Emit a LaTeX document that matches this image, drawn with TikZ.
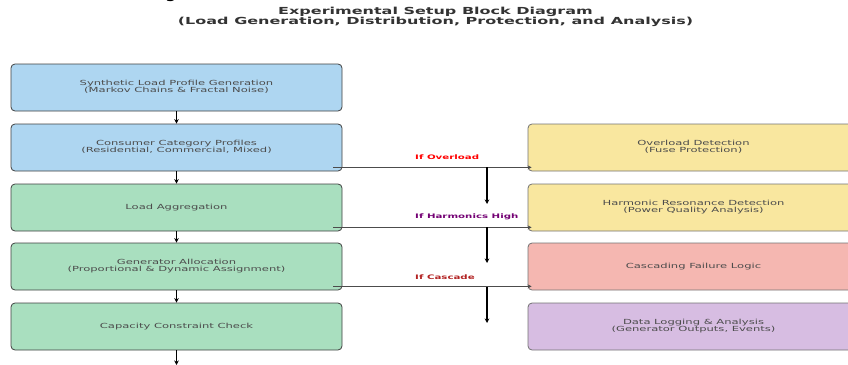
\documentclass[tikz,border=0pt]{standalone}
\usepackage{fontspec}
\setmainfont{DejaVu Sans}
\usepackage{graphicx}
\usetikzlibrary{arrows.meta}
\definecolor{genblue}{HTML}{AED6F1}
\definecolor{procgreen}{HTML}{A9DFBF}
\definecolor{protyellow}{HTML}{F9E79F}
\definecolor{failred}{HTML}{F5B7B1}
\definecolor{logpurple}{HTML}{D7BDE2}
\definecolor{cascred}{HTML}{B22222}
\newcommand{\wide}[1]{\scalebox{1.65}[1]{\begin{tabular}{@{}c@{}}#1\end{tabular}}}

\begin{document}
\begin{tikzpicture}[x=1pt,y=-1pt,
    box/.style={draw=black!75,line width=0.8pt,rounded corners=4pt,minimum width=331pt,minimum height=47pt,inner sep=0pt,text=black!70,font=\fontsize{7}{7.8}\selectfont},
    flow/.style={-{Stealth[length=4.5pt,width=4.5pt]},line width=1.2pt},
    branch/.style={draw=black!70,line width=1.1pt,-{Stealth[length=4pt,width=4pt]}},
    cond/.style={anchor=west,inner sep=0pt,font=\fontsize{6.2}{6.2}\selectfont\bfseries}]
  \useasboundingbox (0,0) rectangle (848,364);
  % \draw[help lines] (0,0) grid[step=20] (848,364);
  \node[anchor=base,inner sep=0pt,font=\fontsize{20}{20}\selectfont] (gcut) at (171,-2.5) {g};
  \node[text=black!80,font=\fontsize{9.7}{10}\selectfont\bfseries] (title) at (435.5,17.5)
    {\wide{Experimental Setup Block Diagram\\(Load Generation, Distribution, Protection, and Analysis)}};
  % left column
  \node[box,fill=genblue] (gen) at (176.5,87.5) {\wide{Synthetic Load Profile Generation\\(Markov Chains \& Fractal Noise)}};
  \node[box,fill=genblue] (cons) at (176.5,147.5) {\wide{Consumer Category Profiles\\(Residential, Commercial, Mixed)}};
  \node[box,fill=procgreen] (agg) at (176.5,207.5) {\wide{Load Aggregation}};
  \node[box,fill=procgreen] (alloc) at (176.5,266.5) {\wide{Generator Allocation\\(Proportional \& Dynamic Assignment)}};
  \node[box,fill=procgreen] (cap) at (176.5,326.5) {\wide{Capacity Constraint Check}};
  % right column
  \node[box,draw=black!55,fill=protyellow] (ovl) at (693.5,147.5) {\wide{Overload Detection\\(Fuse Protection)}};
  \node[box,draw=black!55,fill=protyellow] (harm) at (693.5,207.5) {\wide{Harmonic Resonance Detection\\(Power Quality Analysis)}};
  \node[box,draw=black!55,fill=failred] (casc) at (693.5,266.5) {\wide{Cascading Failure Logic}};
  \node[box,draw=black!55,fill=logpurple] (logg) at (693.5,326.5) {\wide{Data Logging \& Analysis\\(Generator Outputs, Events)}};
  \coordinate (out) at (176.5,365);
  \draw[flow] (gen) -- (cons);
  \draw[flow] (cons) -- (agg);
  \draw[flow] (agg) -- (alloc);
  \draw[flow] (alloc) -- (cap);
  \draw[flow] (cap) -- (out);
  % conditional branches
  \draw[branch] ([shift={(-9,-4)}]cons.south east) -- ([shift={(4,-4)}]ovl.south west);
  \draw[branch] ([shift={(-9,-4)}]agg.south east) -- ([shift={(4,-4)}]harm.south west);
  \draw[branch] ([shift={(-9,-4)}]alloc.south east) -- ([shift={(4,-4)}]casc.south west);
  \node[cond,text=red] (c1) at (415,157) {\scalebox{1.65}[1]{If Overload}};
  \node[cond,text=violet!90!black] (c2) at (415,217) {\scalebox{1.65}[1]{If Harmonics High}};
  \node[cond,text=cascred] (c3) at (415,277) {\scalebox{1.65}[1]{If Cascade}};
  \coordinate (j1) at (487,167); \coordinate (e1) at (487,204);
  \coordinate (j2) at (487,227); \coordinate (e2) at (487,263);
  \coordinate (j3) at (487,287); \coordinate (e3) at (487,323);
  \draw[flow] (j1) -- (e1);
  \draw[flow] (j2) -- (e2);
  \draw[flow] (j3) -- (e3);
\end{tikzpicture}
\end{document}
